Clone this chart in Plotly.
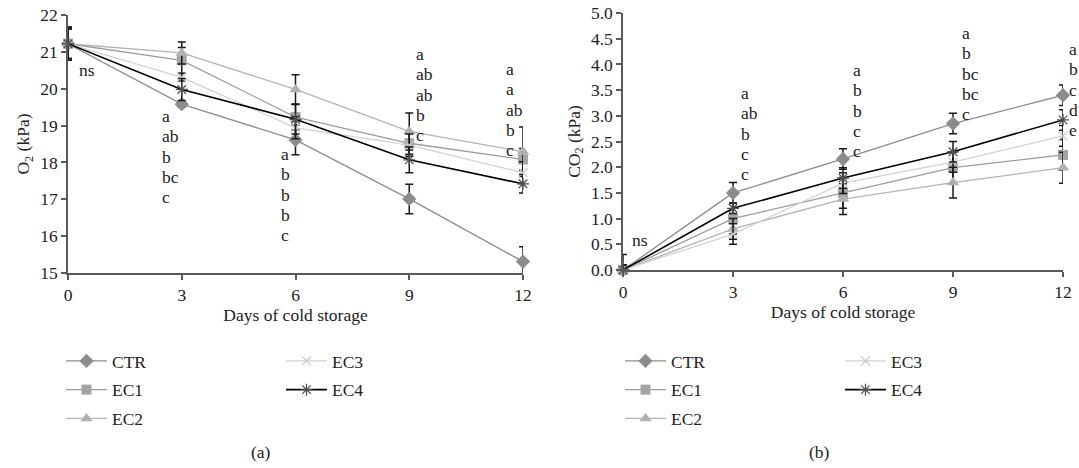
import plotly.graph_objects as go

# ---------------- data ----------------
days = [0, 3, 6, 9, 12]
series = ["CTR", "EC1", "EC2", "EC3", "EC4"]

o2_ctr = [21.22, 19.58, 18.61, 17.01, 15.31]
o2_ec1 = [21.22, 20.77, 19.23, 18.52, 18.08]
o2_ec2 = [21.22, 20.97, 19.98, 18.84, 18.29]
o2_ec3 = [21.22, 20.31, 18.94, 18.47, 17.72]
o2_ec4 = [21.22, 19.98, 19.17, 18.07, 17.42]

o2_err_ctr = [0.45, 0.08, 0.40, 0.40, 0.40]
o2_err_ec1 = [0.45, 0.35, 0.35, 0.30, 0.30]
o2_err_ec2 = [0.45, 0.30, 0.40, 0.50, 0.67]
o2_err_ec3 = [0.40, 0.10, 0.30, 0.30, 0.30]
o2_err_ec4 = [0.40, 0.30, 0.40, 0.35, 0.25]

co2_ctr = [0.0, 1.50, 2.16, 2.85, 3.40]
co2_ec1 = [0.0, 1.00, 1.50, 1.99, 2.24]
co2_ec2 = [0.0, 0.80, 1.38, 1.70, 1.99]
co2_ec3 = [0.0, 0.70, 1.69, 2.10, 2.61]
co2_ec4 = [0.0, 1.20, 1.79, 2.30, 2.92]

co2_err_ctr = [0.30, 0.20, 0.20, 0.20, 0.20]
co2_err_ec1 = [0.10, 0.30, 0.30, 0.30, 0.30]
co2_err_ec2 = [0.10, 0.20, 0.30, 0.30, 0.30]
co2_err_ec3 = [0.10, 0.20, 0.20, 0.20, 0.20]
co2_err_ec4 = [0.10, 0.10, 0.20, 0.20, 0.20]

# significance letters per day
o2_letters = {
    0: ["ns"],
    3: ["a", "ab", "b", "bc", "c"],
    6: ["a", "b", "b", "b", "c"],
    9: ["a", "ab", "ab", "b", "c"],
    12: ["a", "a", "ab", "b", "c"],
}
co2_letters = {
    0: ["ns"],
    3: ["a", "ab", "b", "c", "c"],
    6: ["a", "b", "b", "c", "c"],
    9: ["a", "b", "bc", "bc", "c"],
    12: ["a", "b", "c", "d", "e"],
}

# ---------------- styles ----------------
FONT = "Liberation Serif"
FS = 17.5
line_colors = {"CTR": "#8c8c8c", "EC1": "#9c9c9c", "EC2": "#b4b4b4",
               "EC3": "#d2d2d2", "EC4": "#000000"}
marker_styles = {
    "CTR": dict(symbol="diamond", size=11, color="#8c8c8c"),
    "EC1": dict(symbol="square", size=10, color="#a4a4a4"),
    "EC2": dict(symbol="triangle-up", size=11, color="#b0b0b0"),
    "EC3": dict(symbol="x-thin-open", size=9, color="#c8c8c8",
                line=dict(color="#c8c8c8", width=1.3)),
    "EC4": dict(symbol="asterisk-open", size=10, color="#505050",
                line=dict(color="#505050", width=1.3)),
}
legend_of = {"CTR": 0, "EC1": 0, "EC2": 0, "EC3": 1, "EC4": 1}

o2_vals = [o2_ctr, o2_ec1, o2_ec2, o2_ec3, o2_ec4]
o2_errs = [o2_err_ctr, o2_err_ec1, o2_err_ec2, o2_err_ec3, o2_err_ec4]
co2_vals = [co2_ctr, co2_ec1, co2_ec2, co2_ec3, co2_ec4]
co2_errs = [co2_err_ctr, co2_err_ec1, co2_err_ec2, co2_err_ec3, co2_err_ec4]

fig = go.Figure()

panels = [
    (o2_vals, o2_errs, "x", "y", ["legend", "legend2"]),
    (co2_vals, co2_errs, "x2", "y2", ["legend3", "legend4"]),
]
for vals, errs, xa, ya, legs in panels:
    for name, v, e in zip(series, vals, errs):
        fig.add_trace(go.Scatter(
            x=days, y=v, name=name, mode="lines+markers",
            xaxis=xa, yaxis=ya,
            line=dict(color=line_colors[name], width=1.6 if name == "EC4" else 1.3),
            marker=marker_styles[name],
            error_y=dict(type="data", array=e, visible=True,
                         color="#1a1a1a", thickness=1.5, width=4),
            legend=legs[legend_of[name]],
            legendgroup=name + xa,
            cliponaxis=False,
        ))

W, H = 1079, 468
XD1 = [68 / W, 523 / W]
XD2 = [623 / W, 1063 / W]
axis_common = dict(showgrid=False, zeroline=False, showline=True,
                   automargin=False,
                   linecolor="#5a5a5a", linewidth=1.5, ticks="outside",
                   ticklen=5, tickwidth=1.5, tickcolor="#5a5a5a",
                   tickfont=dict(family=FONT, size=FS, color="#222"))

fig.update_layout(
    width=W, height=H, margin=dict(l=0, r=0, t=0, b=0, autoexpand=False),
    paper_bgcolor="white", plot_bgcolor="white",
    font=dict(family=FONT, size=FS, color="#222"),
    xaxis=dict(domain=XD1, range=[0, 12], tickvals=days, anchor="y",
               title=dict(text="Days of cold storage", standoff=2,
                          font=dict(family=FONT, size=FS)), **axis_common),
    yaxis=dict(domain=[1 - 273 / H, 1 - 15 / H], range=[15, 22], dtick=1,
               anchor="x",
               title=dict(text="O<sub>2</sub> (kPa)", standoff=6,
                          font=dict(family=FONT, size=FS)), **axis_common),
    xaxis2=dict(domain=XD2, range=[0, 12], tickvals=days, anchor="y2",
                title=dict(text="Days of cold storage", standoff=2,
                           font=dict(family=FONT, size=FS)), **axis_common),
    yaxis2=dict(domain=[1 - 270 / H, 1 - 13 / H], range=[0, 5], dtick=0.5,
                tickformat=".1f", anchor="x2",
                title=dict(text="CO<sub>2</sub> (kPa)", standoff=6,
                           font=dict(family=FONT, size=FS)), **axis_common),
)

leg_common = dict(yanchor="top", y=1 - 343 / H, bgcolor="rgba(0,0,0,0)",
                  font=dict(family=FONT, size=FS, color="#222"),
                  tracegroupgap=3, itemwidth=41)
fig.update_layout(
    legend=dict(x=61 / W, xanchor="left", **leg_common),
    legend2=dict(x=281 / W, xanchor="left", **leg_common),
    legend3=dict(x=620 / W, xanchor="left", **leg_common),
    legend4=dict(x=840 / W, xanchor="left", **leg_common),
)

# significance letter annotations: (day -> x of left edge, y of first line)
o2_pos = {0: (0.24, 20.51), 3: (2.42, 19.26), 6: (5.57, 18.23),
          9: (9.13, 20.94), 12: (11.5, 20.53)}
co2_pos = {0: (0.19, 0.58), 3: (3.16, 3.44), 6: (6.22, 3.89),
           9: (9.19, 4.61), 12: (12.12, 4.30)}
STEP = 20.3
for letters, pos, dom, yr in [(o2_letters, o2_pos, XD1, "y"),
                              (co2_letters, co2_pos, XD2, "y2")]:
    for d, labs in letters.items():
        x0, y0 = pos[d]
        xp = dom[0] + x0 / 12 * (dom[1] - dom[0])
        for i, t in enumerate(labs):
            fig.add_annotation(x=xp, y=y0, xref="paper", yref=yr, text=t,
                               showarrow=False, xanchor="left",
                               yanchor="middle", yshift=-i * STEP,
                               font=dict(family=FONT, size=FS, color="#222"))

for txt, xc in [("(a)", 261), ("(b)", 819)]:
    fig.add_annotation(x=xc / W, y=1 - 452 / H, xref="paper", yref="paper",
                       text=txt, showarrow=False, xanchor="center",
                       yanchor="middle",
                       font=dict(family=FONT, size=FS, color="#222"))

fig.write_html(
    "out.html",
    config={"displayModeBar": False},
    post_script="document.body.style.margin='0';"
                "document.documentElement.style.overflow='hidden';",
)
